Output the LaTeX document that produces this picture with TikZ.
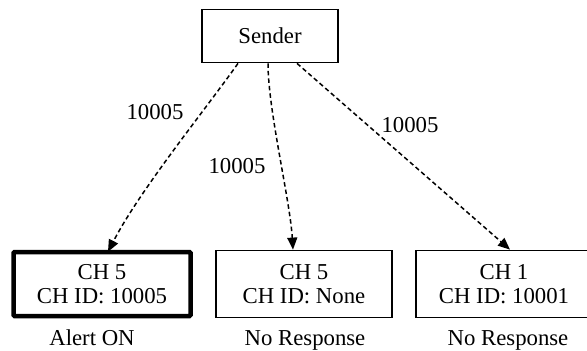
\documentclass[tikz,border=0pt]{standalone}
\usepackage{fontspec}
\setmainfont{Liberation Serif}
\usetikzlibrary{arrows.meta}

\begin{document}
\begin{tikzpicture}[x=1pt, y=-1pt, font=\fontsize{22.75}{24}\selectfont,
  box/.style = {draw, line width=1.8pt, align=center, inner sep=0pt},
  msg/.style = {line width=1.5pt, dash pattern=on 4.5pt off 3pt, -{Triangle[length=12pt, width=10pt]}},
  tag/.style = {inner sep=0pt}]

\useasboundingbox (0,0) rectangle (587,351);

\node[box, minimum width=136pt, minimum height=53pt] (sender) at (270,36) {Sender};

\node[box, line width=4.5pt, rounded corners=1pt, minimum width=177pt, minimum height=64pt] (ch5a) at (102,284) {CH 5\\CH ID: 10005};
\node[box, minimum width=176pt, minimum height=67pt] (ch5b) at (304,284) {CH 5\\CH ID: None};
\node[box, minimum width=176pt, minimum height=67pt] (ch1) at (504,284) {CH 1\\CH ID: 10001};

\node[tag, anchor = base] (ch5a-state) at (92,345) {Alert ON};
\node[tag, anchor = base] (ch5b-state) at (305,345) {No Response};
\node[tag, anchor = base] (ch1-state) at (508,345) {No Response};

\draw[msg] ([xshift=-32pt]sender.south) .. controls (205,110) and (140,190) .. ([xshift=6pt, yshift=-2pt]ch5a.north);
\draw[msg] ([xshift=-2pt]sender.south) .. controls (268,110) and (290,200) .. ([xshift=-11pt]ch5b.north);
\draw[msg] ([xshift=27pt]sender.south) -- ([xshift=6pt]ch1.north);

\node[tag] (lbl-a) at (155,112) {10005};
\node[tag] (lbl-b) at (237,166) {10005};
\node[tag] (lbl-c) at (410,125) {10005};
\end{tikzpicture}
\end{document}
